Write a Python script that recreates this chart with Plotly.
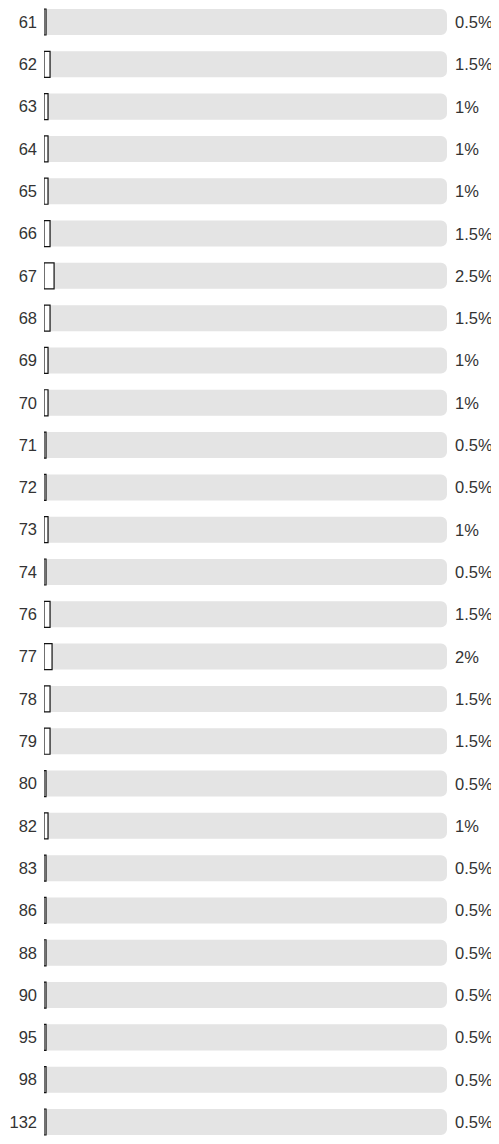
import plotly.graph_objects as go

categories = ["61", "62", "63", "64", "65", "66", "67", "68", "69", "70",
              "71", "72", "73", "74", "76", "77", "78", "79", "80", "82",
              "83", "86", "88", "90", "95", "98", "132"]
values = [0.5, 1.5, 1, 1, 1, 1.5, 2.5, 1.5, 1, 1,
          0.5, 0.5, 1, 0.5, 1.5, 2, 1.5, 1.5, 0.5, 1,
          0.5, 0.5, 0.5, 0.5, 0.5, 0.5, 0.5]
value_labels = [f"{v:g}%" for v in values]
full = [100] * len(categories)
pos = list(range(len(categories)))

# page has an 8px body margin; compensate in figure size/margins
fig = go.Figure()
fig.add_trace(go.Bar(
    y=pos, x=full, orientation="h",
    marker=dict(color="#e4e4e4", line=dict(width=0), cornerradius=6),
    width=0.615, hoverinfo="skip", showlegend=False,
))
fig.add_trace(go.Bar(
    y=pos, x=values, orientation="h",
    marker=dict(color="white", line=dict(color="#111111", width=1.2), cornerradius=6),
    width=0.615, showlegend=False,
))

for p, t in zip(pos, value_labels):
    fig.add_annotation(x=1, xref="paper", y=p, yref="y", text=t,
                       xanchor="left", xshift=6, showarrow=False,
                       font=dict(family="Liberation Sans, Arial", size=16.5, color="#333333"))

fig.update_layout(
    width=491, height=1128,
    margin=dict(l=36, r=52, t=0, b=0),
    barmode="overlay",
    plot_bgcolor="white", paper_bgcolor="white",
    font=dict(family="Liberation Sans, Arial", size=16.5, color="#333333"),
    xaxis=dict(range=[0, 100], visible=False, fixedrange=True),
    yaxis=dict(range=[26.331, -0.331], autorange=False,
               tickmode="array", tickvals=pos, ticktext=categories,
               showgrid=False, zeroline=False, showline=False, ticks="",
               ticklabelstandoff=6, fixedrange=True),
)
fig.write_html("out.html")
